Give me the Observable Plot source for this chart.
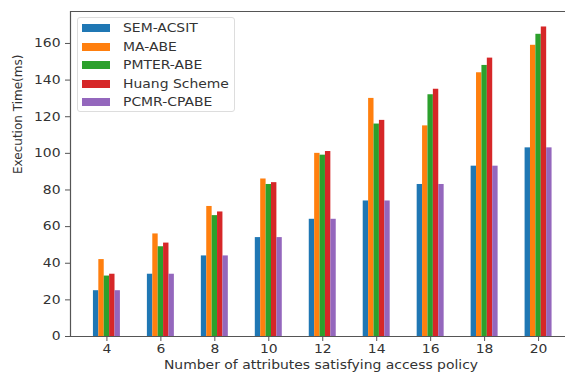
<!DOCTYPE html>
<html>
<head>
<meta charset="utf-8">
<script src="https://cdn.jsdelivr.net/npm/d3@7"></script>
<script src="https://cdn.jsdelivr.net/npm/@observablehq/plot@0.6"></script>
<style>
  html, body { margin: 0; padding: 0; background: white; }
  #wrap { position: relative; width: 565px; height: 376px; overflow: hidden; }
  #legend {
    position: absolute; left: 77px; top: 17px; width: 158px; height: 95px;
    border: 1px solid #ddd; border-radius: 3px; background: rgba(255,255,255,0.85);
    font-family: "DejaVu Sans", sans-serif; font-size: 12px; color: #333; box-sizing: border-box;
  }
  .item { position: absolute; left: 4px; height: 18px; display: flex; align-items: center; }
  .sw { width: 28px; height: 8px; margin-right: 13px; }
  .lab { display: inline-block; transform: scaleX(1.16); transform-origin: left center; white-space: nowrap; }
</style>
</head>
<body>
<div id="wrap"><div id="legend"></div></div>
<script>
const attributes = [4, 6, 8, 10, 12, 14, 16, 18, 20];
const seriesNames = ["SEM-ACSIT", "MA-ABE", "PMTER-ABE", "Huang Scheme", "PCMR-CPABE"];
const seriesColors = ["#1f77b4", "#ff7f0e", "#2ca02c", "#d62728", "#9467bd"];
const semAcsit   = [25, 34, 44, 54, 64, 74, 83, 93, 103];
const maAbe      = [42, 56, 71, 86, 100, 130, 115, 144, 159];
const pmterAbe   = [33, 49, 66, 83, 99, 116, 132, 148, 165];
const huangScheme= [34, 51, 68, 84, 101, 118, 135, 152, 169];
const pcmrCpabe  = [25, 34, 44, 54, 64, 74, 83, 93, 103];
const yTicks = [0, 20, 40, 60, 80, 100, 120, 140, 160];

const seriesValues = [semAcsit, maAbe, pmterAbe, huangScheme, pcmrCpabe];
const barWidth = 0.2;
const data = [];
seriesValues.forEach((vals, i) => {
  vals.forEach((v, j) => {
    data.push({x: attributes[j], offset: (i - 2) * barWidth, value: v, series: seriesNames[i]});
  });
});

const xDomain = [2.65, 21.35];
const yMax = 177.45;

const chart = Plot.plot({
  width: 565,
  height: 376,
  marginLeft: 70,
  marginRight: 0,
  marginTop: 11,
  marginBottom: 40,
  style: {fontFamily: "DejaVu Sans, sans-serif", fontSize: "12px", color: "#333", background: "white", overflow: "hidden"},
  x: {domain: xDomain, range: [70, 574.5]},
  y: {domain: [0, yMax]},
  color: {domain: seriesNames, range: seriesColors},
  marks: [
    Plot.rectY(data, {
      x1: d => d.x + d.offset - barWidth / 2,
      x2: d => d.x + d.offset + barWidth / 2,
      y1: 0, y2: "value", fill: "series"
    }),
    Plot.ruleY([0, yMax], {x1: xDomain[0], x2: xDomain[1], stroke: "#555", strokeWidth: 1.2}),
    Plot.ruleX([xDomain[0]], {y1: 0, y2: yMax, stroke: "#555", strokeWidth: 1.2}),
    Plot.axisX({ticks: attributes, tickSize: 5, tickPadding: 3, tickFormat: d => d, label: null, stroke: "#555", fontSize: 12, className: "stretch"}),
    Plot.axisY({ticks: yTicks, tickSize: 5, tickPadding: 5, tickFormat: d => d, label: null, stroke: "#555", fontSize: 12, className: "stretch"}),
    Plot.text(["Execution Time(ms)"], {frameAnchor: "left", rotate: -90, dx: -52, fontSize: 12, fill: "#333"}),
    Plot.text(["Number of attributes satisfying access policy"], {frameAnchor: "bottom", dy: 32, dx: 3, fontSize: 12, fill: "#333", className: "stretch"})
  ]
});
document.getElementById("wrap").prepend(chart);

// the reference figure is stretched horizontally: widen horizontal text accordingly
chart.querySelectorAll("[class^='stretch'] text, [class*=' stretch'] text, g.stretch text").forEach(t => {
  const len = t.getComputedTextLength();
  if (len > 0) {
    t.setAttribute("textLength", (len * 1.16).toFixed(2));
    t.setAttribute("lengthAdjust", "spacingAndGlyphs");
  }
});

const legend = document.getElementById("legend");
seriesNames.forEach((name, i) => {
  const item = document.createElement("div");
  item.className = "item";
  item.style.top = (1 + i * 18.5) + "px";
  const sw = document.createElement("div");
  sw.className = "sw";
  sw.style.background = seriesColors[i];
  const label = document.createElement("span");
  label.className = "lab";
  label.textContent = name;
  item.appendChild(sw);
  item.appendChild(label);
  legend.appendChild(item);
});
</script>
</body>
</html>
